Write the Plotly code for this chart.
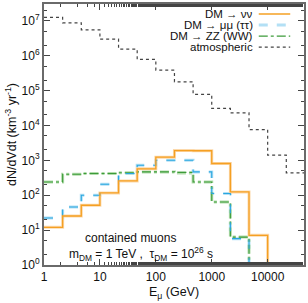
import plotly.graph_objects as go

# bin edges (GeV), 1/3-decade bins
edges = [1, 2.154, 4.642, 10, 21.54, 46.42, 100, 215.4, 464.2, 1000,
         2154, 4642, 10000, 21544, 46416]

# event rates per bin (km^-3 yr^-1); 1e-6 = empty bin (below axis)
nunu = [12, 25.4, 51.6, 116, 257, 570, 1230, 1900, 1880, 810, 124, 7.1, 1e-6, 1e-6]
mumu = [22.3, 46, 100, 206, 420, 725, 1000, 1000, 466, 112, 5.7, 1e-6, 1e-6, 1e-6]
tautau = [22.3, 46, 100, 206, 420, 725, 1000, 1000, 466, 112, 5.7, 1e-6, 1e-6, 1e-6]
zz = [240, 400, 420, 420, 440, 466, 466, 450, 240, 64, 6.3, 1e-6, 1e-6, 1e-6]
ww = [240, 400, 420, 420, 440, 466, 466, 436, 240, 64, 6.3, 1e-6, 1e-6, 1e-6]
atm = [1.25e7, 8.7e6, 5.5e6, 2.96e6, 1.54e6, 7.8e5, 3.85e5, 1.78e5, 7.8e4,
       3.1e4, 2.3e4, 7.6e3, 1.4e3, 437]

legend_labels = ["DM \u2192 \u03bd\u03bd", "DM \u2192 \u03bc\u03bc (\u03c4\u03c4)",
                 "DM \u2192 ZZ (WW)", "atmospheric"]
xtick_vals = [1, 10, 100, 1000, 10000]
xtick_text = ["1", "10", "100", "1000", "10000"]
ytick_vals = [1, 10, 100, 1e3, 1e4, 1e5, 1e6, 1e7]
ytick_text = ["10<sup>%d</sup>" % i for i in range(8)]

FONT = "Liberation Sans, Arial, sans-serif"

def step(vals):
    return list(vals) + [vals[-1]]

fig = go.Figure()
series = [
    (tautau, "#b3e0f5", 3.0, "dash"),
    (ww, "#b2dcab", 3.0, "dashdot"),
    (nunu, "#fcd9ab", 3.0, "solid"),
    (zz, "#3d9b3a", 1.1, "dashdot"),
    (mumu, "#2aa6df", 1.1, "dash"),
    (nunu, "#f5a023", 1.3, "solid"),
    (atm, "#444444", 1.2, "dot"),
]
for vals, col, w, dash in series:
    fig.add_trace(go.Scatter(x=edges, y=step(vals), mode="lines",
                             line=dict(color=col, width=w, dash=dash, shape="hv"),
                             showlegend=False, hoverinfo="skip"))

axis_common = dict(type="log", showgrid=False, zeroline=False, showline=True,
                   linecolor="#6a6a6a", linewidth=2, mirror="ticks",
                   ticks="inside", ticklen=6, tickwidth=1, tickcolor="#444",
                   tickfont=dict(family=FONT, size=12, color="#111"),
                   minor=dict(ticks="inside", ticklen=3, tickcolor="#444", tickwidth=1))

fig.update_xaxes(**axis_common, range=[0, 4.65], tickvals=xtick_vals, ticktext=xtick_text,
                 title=dict(text="E<sub>\u03bc</sub> (GeV)", standoff=4,
                            font=dict(family=FONT, size=12.5, color="#111")))
fig.update_yaxes(**axis_common, range=[0, 7.48], tickvals=ytick_vals, ticktext=ytick_text,
                 title=dict(text="dN/dVdt (km<sup>-3</sup> yr<sup>-1</sup>)", standoff=2,
                            font=dict(family=FONT, size=12.5, color="#111")))

# legend drawn manually (text left of sample line)
leg_y = [0.962, 0.920, 0.877, 0.835]
leg_style = [("#f5a023", "solid", 1.5), ("#b3e0f5", "dash", 3.0),
             ("#3d9b3a", "dashdot", 1.1), ("#444444", "dot", 1.2)]
for lab, yy, (col, dash, w) in zip(legend_labels, leg_y, leg_style):
    fig.add_annotation(x=0.81, y=yy, xref="paper", yref="paper", text=lab,
                       showarrow=False, xanchor="right", yanchor="middle",
                       font=dict(family=FONT, size=11.5, color="#111"))
    fig.add_shape(type="line", xref="paper", yref="paper", x0=0.826, x1=0.947,
                  y0=yy, y1=yy, line=dict(color=col, dash=dash, width=w))

fig.add_annotation(x=0.332, y=0.104, xref="paper", yref="paper", text="contained muons",
                   showarrow=False, xanchor="center", yanchor="middle",
                   font=dict(family=FONT, size=12, color="#111"))
fig.add_annotation(x=0.374, y=0.043, xref="paper", yref="paper",
                   text="m<sub>DM</sub> = 1 TeV ,  \u03c4<sub>DM</sub> = 10<sup>26</sup> s",
                   showarrow=False, xanchor="center", yanchor="middle",
                   font=dict(family=FONT, size=12, color="#111"))

fig.update_layout(width=308, height=303, margin=dict(l=44, r=2, t=4, b=38),
                  paper_bgcolor="white", plot_bgcolor="white")
fig.write_html("out.html", config={"displayModeBar": False},
               post_script="document.body.style.margin='0';document.body.style.overflow='hidden';")
